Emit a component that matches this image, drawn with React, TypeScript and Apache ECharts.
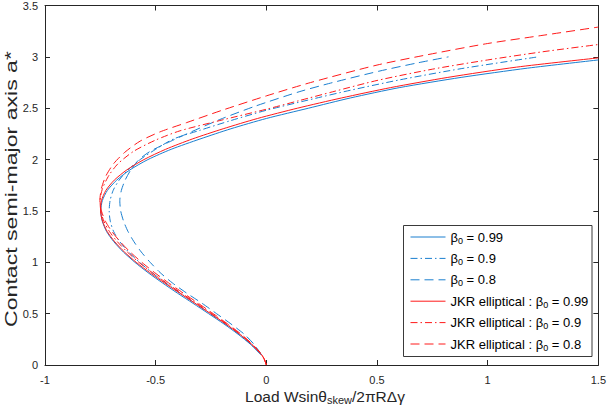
import React, { useEffect, useRef } from "react";
import * as echarts from "echarts";

// [load Wsinθ/2πRΔγ, contact semi-major axis a*]
const blueBeta099: [number, number][] = [
  [-0.024, 0.1], [-0.071, 0.2], [-0.128, 0.3], [-0.192, 0.4], [-0.261, 0.5], [-0.331, 0.6],
  [-0.402, 0.7], [-0.47, 0.8], [-0.535, 0.9], [-0.594, 1.0], [-0.646, 1.1], [-0.689, 1.2],
  [-0.722, 1.3], [-0.741, 1.4], [-0.748, 1.5], [-0.741, 1.6], [-0.718, 1.7], [-0.676, 1.8],
  [-0.616, 1.9], [-0.535, 2.0], [-0.43, 2.1], [-0.3, 2.2], [-0.16, 2.3], [0.0, 2.4],
  [0.19, 2.5], [0.38, 2.6], [0.6, 2.7], [0.88, 2.8], [1.18, 2.89], [1.5, 2.97],
];
const blueBeta09: [number, number][] = [
  [-0.024, 0.1], [-0.069, 0.2], [-0.124, 0.3], [-0.186, 0.4], [-0.253, 0.5], [-0.321, 0.6],
  [-0.389, 0.7], [-0.455, 0.8], [-0.517, 0.9], [-0.573, 1.0], [-0.622, 1.1], [-0.662, 1.2],
  [-0.69, 1.3], [-0.705, 1.4], [-0.71, 1.5], [-0.706, 1.6], [-0.692, 1.7], [-0.665, 1.8],
  [-0.625, 1.9], [-0.57, 2.0], [-0.5, 2.1], [-0.42, 2.2], [-0.3, 2.285], [-0.16, 2.38],
  [0.0, 2.48], [0.19, 2.58], [0.38, 2.675], [0.6, 2.775], [0.88, 2.885], [1.228, 3.0],
];
const blueBeta08: [number, number][] = [
  [-0.022, 0.1], [-0.055, 0.2], [-0.1, 0.3], [-0.16, 0.4], [-0.225, 0.5], [-0.29, 0.6],
  [-0.36, 0.7], [-0.425, 0.8], [-0.48, 0.9], [-0.525, 1.0], [-0.565, 1.1], [-0.598, 1.2],
  [-0.625, 1.3], [-0.645, 1.4], [-0.658, 1.5], [-0.662, 1.6], [-0.655, 1.7], [-0.638, 1.8],
  [-0.612, 1.9], [-0.575, 2.0], [-0.525, 2.08], [-0.45, 2.16], [-0.36, 2.25], [-0.21, 2.39],
  [-0.05, 2.52], [0.148, 2.66], [0.3, 2.75], [0.508, 2.86], [0.68, 2.94], [0.823, 3.0],
];
const jkrBeta099: [number, number][] = [
  [0, 0], [-0.008, 0.05], [-0.022, 0.1], [-0.066, 0.2], [-0.121, 0.3], [-0.184, 0.4],
  [-0.252, 0.5], [-0.322, 0.6], [-0.392, 0.7], [-0.461, 0.8], [-0.527, 0.9], [-0.588, 1.0],
  [-0.641, 1.1], [-0.685, 1.2], [-0.719, 1.3], [-0.74, 1.4], [-0.749, 1.5], [-0.745, 1.6],
  [-0.725, 1.7], [-0.687, 1.8], [-0.63, 1.9], [-0.553, 2.0], [-0.455, 2.1], [-0.335, 2.2],
  [-0.195, 2.3], [-0.04, 2.4], [0.14, 2.5], [0.34, 2.6], [0.56, 2.7], [0.82, 2.8],
  [1.13, 2.9], [1.5, 2.99],
];
const jkrBeta09: [number, number][] = [
  [0, 0], [-0.008, 0.05], [-0.021, 0.1], [-0.064, 0.2], [-0.118, 0.3], [-0.18, 0.4],
  [-0.246, 0.5], [-0.315, 0.6], [-0.384, 0.7], [-0.452, 0.8], [-0.516, 0.9], [-0.576, 1.0],
  [-0.628, 1.1], [-0.673, 1.2], [-0.709, 1.3], [-0.734, 1.4], [-0.748, 1.5], [-0.751, 1.6],
  [-0.74, 1.72], [-0.71, 1.85], [-0.67, 1.96], [-0.6, 2.08], [-0.5, 2.19], [-0.39, 2.28],
  [-0.21, 2.38], [0.0, 2.49], [0.15, 2.575], [0.3, 2.66], [0.5, 2.77], [0.75, 2.88],
  [1.0, 2.97], [1.25, 3.05], [1.5, 3.12],
];
const jkrBeta08: [number, number][] = [
  [0, 0], [-0.008, 0.05], [-0.02, 0.1], [-0.062, 0.2], [-0.114, 0.3], [-0.175, 0.4],
  [-0.24, 0.5], [-0.307, 0.6], [-0.375, 0.7], [-0.442, 0.8], [-0.505, 0.9], [-0.563, 1.0],
  [-0.615, 1.1], [-0.66, 1.2], [-0.698, 1.3], [-0.727, 1.4], [-0.745, 1.5], [-0.752, 1.6],
  [-0.745, 1.72], [-0.725, 1.84], [-0.69, 1.96], [-0.64, 2.07], [-0.57, 2.18], [-0.48, 2.27],
  [-0.36, 2.36], [-0.2, 2.48], [0.0, 2.62], [0.2, 2.75], [0.5, 2.92], [0.75, 3.03],
  [1.0, 3.13], [1.25, 3.21], [1.5, 3.29],
];

const seriesNames = [
  "β0 = 0.99",
  "β0 = 0.9",
  "β0 = 0.8",
  "JKR elliptical : β0 = 0.99",
  "JKR elliptical : β0 = 0.9",
  "JKR elliptical : β0 = 0.8",
];

const xTitle = "Load Wsinθ{sub|skew}/2πRΔγ";
const yTitle = "Contact semi-major axis a*";

const FONT = '"Liberation Sans", Arial, Helvetica, sans-serif';
const AXIS_COLOR = "#262626";
const BLUE = "#1a7fcf";
const RED = "#FF1a1a";
const DASH = [9, 5];
const DASHDOT = [7, 3, 1.5, 3];

function makeSeries(name: string, data: [number, number][], color: string, type: any) {
  return {
    name,
    type: "line",
    data,
    showSymbol: false,
    symbol: "none",
    smooth: 0.25,
    xAxisIndex: 0,
    yAxisIndex: 0,
    color,
    itemStyle: { color },
    lineStyle: { color, width: 1, type },
    emphasis: { disabled: true },
  };
}

export default function App() {
  const ref = useRef<HTMLDivElement>(null);
  useEffect(() => {
    document.body.style.margin = "0";
    const chart = echarts.init(ref.current!, null, { renderer: "svg" });
    const axisCommon = {
      axisLine: { show: true, onZero: false, lineStyle: { color: AXIS_COLOR, width: 1 } },
      axisTick: { show: true, inside: true, length: 5, lineStyle: { color: AXIS_COLOR, width: 1 } },
      splitLine: { show: false },
    };
    const option: any = {
      animation: false,
      backgroundColor: "#fff",
      grid: { left: 45, right: 8.5, top: 4.3, bottom: 49, containLabel: false },
      xAxis: [
        {
          type: "value", min: -1, max: 1.5, interval: 0.5, position: "bottom",
          ...axisCommon,
          axisLabel: { show: true, margin: 9, fontSize: 11, color: AXIS_COLOR, fontFamily: FONT },
        },
        {
          type: "value", min: -1, max: 1.5, interval: 0.5, position: "top",
          ...axisCommon,
          axisLabel: { show: false },
        },
      ],
      yAxis: [
        {
          type: "value", min: 0, max: 3.5, interval: 0.5, position: "left",
          ...axisCommon,
          axisLabel: { show: true, margin: 7, fontSize: 11, color: AXIS_COLOR, fontFamily: FONT },
        },
        {
          type: "value", min: 0, max: 3.5, interval: 0.5, position: "right",
          ...axisCommon,
          axisLabel: { show: false },
        },
      ],
      legend: {
        orient: "vertical",
        left: 403,
        top: 225,
        data: seriesNames,
        itemWidth: 35,
        itemHeight: 14,
        itemGap: 3.4,
        padding: [2, 4, 4, 7],
        backgroundColor: "transparent",
        borderWidth: 0,
        selectedMode: false,
        itemStyle: { opacity: 0 },
        lineStyle: { width: 1 },
        formatter: (name: string) => name.replace("β0", "β{sub|0}"),
        textStyle: {
          fontSize: 13,
          lineHeight: 16,
          color: "#000",
          fontFamily: FONT,
          rich: {
            sub: { fontSize: 9, lineHeight: 9, padding: [9, 0, 0, 0], verticalAlign: "bottom", fontFamily: FONT, color: "#000" },
          },
        },
      },
      graphic: [
        {
          type: "rect",
          z: 3,
          shape: { x: 403.5, y: 225.5, width: 188.5, height: 131 },
          style: { fill: "#fff", stroke: "#3a3a3a", lineWidth: 1 },
        },
        {
          type: "text",
          x: 325,
          y: 396,
          style: {
            text: xTitle,
            fontSize: 15.5,
            lineHeight: 18,
            fontFamily: FONT,
            fill: AXIS_COLOR,
            align: "center",
            verticalAlign: "middle",
            rich: {
              sub: { fontSize: 11, lineHeight: 11, padding: [17, 0, 0, 0], verticalAlign: "bottom", fontFamily: FONT, fill: AXIS_COLOR },
            },
          },
        },
        {
          type: "text",
          x: 11,
          y: 189,
          rotation: Math.PI / 2,
          scaleX: 1.4,
          style: {
            text: yTitle,
            fontSize: 16.5,
            fontFamily: FONT,
            fill: AXIS_COLOR,
            align: "center",
            verticalAlign: "middle",
          },
        },
      ],
      series: [
        makeSeries(seriesNames[0], blueBeta099, BLUE, "solid"),
        makeSeries(seriesNames[1], blueBeta09, BLUE, DASHDOT),
        makeSeries(seriesNames[2], blueBeta08, BLUE, DASH),
        makeSeries(seriesNames[3], jkrBeta099, RED, "solid"),
        makeSeries(seriesNames[4], jkrBeta09, RED, DASHDOT),
        makeSeries(seriesNames[5], jkrBeta08, RED, DASH),
      ],
    };
    chart.setOption(option);
    return () => chart.dispose();
  }, []);
  return <div ref={ref} style={{ width: 609, height: 414 }} />;
}
